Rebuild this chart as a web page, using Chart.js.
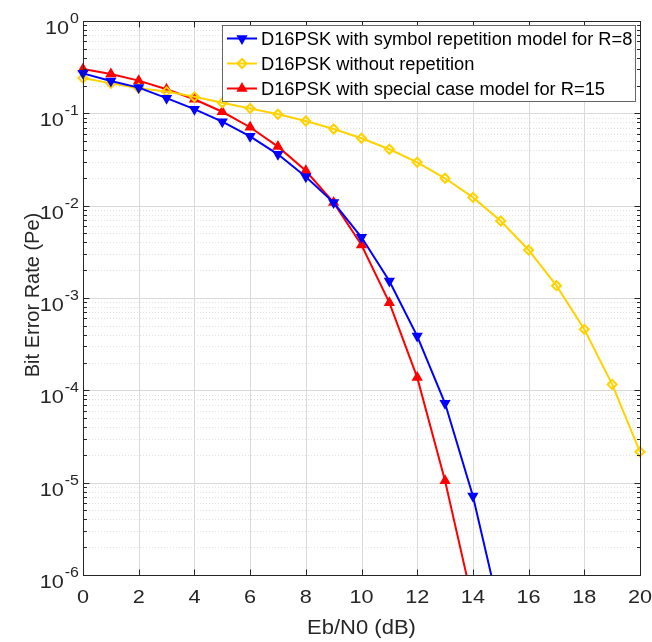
<!DOCTYPE html>
<html>
<head>
<meta charset="utf-8">
<script src="https://cdn.jsdelivr.net/npm/chart.js@4.4.1/dist/chart.umd.min.js"></script>
<style>
  html, body { margin: 0; padding: 0; background: #fff; }
  #berChart { display: block; }
</style>
</head>
<body>
<canvas id="berChart" width="652" height="642"></canvas>
<script>
// ==============================
// DATA
// ==============================
const EBN0_DB = [0,1,2,3,4,5,6,7,8,9,10,11,12,13,14,15,16,17,18,19,20];

const BER_REP_R8 = [
  0.271, 0.224, 0.190, 0.146, 0.111, 0.0812, 0.0564, 0.0360, 0.0206, 0.0108,
  4.54e-3, 1.53e-3, 3.87e-4, 7.24e-5, 7.16e-6, 3.6e-7
];

const BER_NO_REP = [
  0.241, 0.211, 0.187, 0.172, 0.151, 0.130, 0.113, 0.0977, 0.0826, 0.0676,
  0.0537, 0.0408, 0.0295, 0.0198, 0.0123, 6.82e-3, 3.31e-3, 1.36e-3, 4.58e-4,
  1.16e-4, 2.16e-5
];

const BER_SPECIAL_R15 = [
  0.302, 0.267, 0.226, 0.182, 0.142, 0.104, 0.0707, 0.0436, 0.0239, 0.0108,
  3.75e-3, 8.9e-4, 1.38e-4, 1.05e-5, 4.95e-7
];

const SERIES_LABELS = [
  "D16PSK with symbol repetition model for R=8",
  "D16PSK without repetition",
  "D16PSK with special case model for R=15"
];

const X_TICKS = [0,2,4,6,8,10,12,14,16,18,20];
const Y_EXPONENTS = [0,-1,-2,-3,-4,-5,-6];

const X_TITLE = "Eb/N0 (dB)";
const Y_TITLE = "Bit Error Rate (Pe)";

// ==============================
// STYLE
// ==============================
const FONT = '"Liberation Sans", Arial, Helvetica, sans-serif';
const AXIS_COLOR = "#262626";
const BLUE = "#0000ff";
const YELLOW = "#ffd200";
const RED = "#ff0000";
const TEXT_STRETCH = 1.14;   // reference text is a bit wide

function toPoints(values) {
  return values.map((v, i) => ({ x: EBN0_DB[i], y: v }));
}

function hLine(ctx, x1, x2, y) {
  ctx.beginPath();
  ctx.moveTo(x1, y);
  ctx.lineTo(x2, y);
  ctx.stroke();
}

function vLine(ctx, x, y1, y2) {
  ctx.beginPath();
  ctx.moveTo(x, y1);
  ctx.lineTo(x, y2);
  ctx.stroke();
}

function wideText(ctx, text, x, y, sx) {
  ctx.save();
  ctx.translate(x, y);
  ctx.scale(sx, 1);
  ctx.fillText(text, 0, 0);
  ctx.restore();
}

// ==============================
// MATLAB-LIKE AXES PLUGIN
// ==============================
const matlabAxes = {
  id: "matlabAxes",

  beforeDatasetsDraw(chart) {
    const { ctx, chartArea: a, scales: { x, y } } = chart;
    ctx.save();
    ctx.lineWidth = 1;

    // minor y grid (dotted)
    ctx.strokeStyle = "#e2e2e2";
    ctx.setLineDash([1, 2]);
    Y_EXPONENTS.forEach(p => {
      for (let m = 2; m <= 9; m++) {
        const v = m * Math.pow(10, p);
        if (v >= 1) continue;
        const py = Math.round(y.getPixelForValue(v)) + 0.5;
        hLine(ctx, a.left, a.right, py);
      }
    });

    // major grid
    ctx.setLineDash([]);
    ctx.strokeStyle = "#dadada";
    X_TICKS.forEach(t => {
      const px = Math.round(x.getPixelForValue(t)) + 0.5;
      vLine(ctx, px, a.top, a.bottom);
    });
    Y_EXPONENTS.forEach(p => {
      const py = Math.round(y.getPixelForValue(Math.pow(10, p))) + 0.5;
      hLine(ctx, a.left, a.right, py);
    });
    ctx.restore();
  },

  afterDatasetsDraw(chart) {
    const { ctx, chartArea: a, scales: { x, y } } = chart;
    const L = Math.round(a.left) + 0.5, R = Math.round(a.right) + 0.5;
    const T = Math.round(a.top) + 0.5, B = Math.round(a.bottom) + 0.5;
    ctx.save();

    // box
    ctx.strokeStyle = AXIS_COLOR;
    ctx.lineWidth = 1;
    ctx.strokeRect(L, T, R - L, B - T);

    // x ticks (inward, bottom and top)
    X_TICKS.forEach(t => {
      const px = Math.round(x.getPixelForValue(t)) + 0.5;
      vLine(ctx, px, B, B - 6);
      vLine(ctx, px, T, T + 6);
    });

    // y ticks (inward, left and right), major + minor
    Y_EXPONENTS.forEach(p => {
      for (let m = 1; m <= 9; m++) {
        const v = m * Math.pow(10, p);
        if (v > 1) continue;
        const len = m === 1 ? 6 : 3.5;
        const py = Math.round(y.getPixelForValue(v)) + 0.5;
        hLine(ctx, L, L + len, py);
        hLine(ctx, R, R - len, py);
      }
    });

    // x tick labels
    ctx.fillStyle = AXIS_COLOR;
    ctx.font = "19px " + FONT;
    ctx.textAlign = "center";
    ctx.textBaseline = "middle";
    X_TICKS.forEach(t => {
      wideText(ctx, String(t), x.getPixelForValue(t), 598, TEXT_STRETCH);
    });

    // y tick labels: 10 with superscript exponent
    Y_EXPONENTS.forEach(p => {
      const py = y.getPixelForValue(Math.pow(10, p));
      const exp = p === 0 ? "0" : "-" + Math.abs(p);
      ctx.textAlign = "right";
      ctx.textBaseline = "alphabetic";
      ctx.font = "14px " + FONT;
      const ew = ctx.measureText(exp).width * TEXT_STRETCH;
      wideText(ctx, exp, 79, py + 2, TEXT_STRETCH);
      ctx.font = "19px " + FONT;
      wideText(ctx, "10", 79 - ew - 1, py + 13, TEXT_STRETCH);
    });

    // axis titles
    ctx.font = "20px " + FONT;
    ctx.textAlign = "center";
    ctx.textBaseline = "middle";
    wideText(ctx, X_TITLE, (a.left + a.right) / 2, 628, 1.1);
    ctx.save();
    ctx.translate(33, (a.top + a.bottom) / 2 - 3);
    ctx.rotate(-Math.PI / 2);
    ctx.fillText(Y_TITLE, 0, 0);
    ctx.restore();

    // legend
    const lx = 222.5, ly = 25.5, lw = 413, lh = 76;
    ctx.fillStyle = "#fff";
    ctx.fillRect(lx, ly, lw, lh);
    ctx.strokeStyle = "#666";
    ctx.lineWidth = 1;
    ctx.strokeRect(lx, ly, lw, lh);

    chart.data.datasets.forEach((ds, i) => {
      const ry = 38.5 + i * 25;
      ctx.strokeStyle = ds.borderColor;
      ctx.lineWidth = 2;
      hLine(ctx, 227, 257, ry);
      ctx.fillStyle = ds.pointBackgroundColor;
      ctx.strokeStyle = ds.borderColor;
      ctx.lineWidth = ds.pointBorderWidth;
      Chart.helpers.drawPoint(ctx, {
        pointStyle: ds.pointStyle,
        rotation: ds.pointRotation || 0,
        radius: ds.pointRadius,
        borderWidth: ds.pointBorderWidth
      }, 242, ry);
      ctx.fillStyle = "#000";
      ctx.font = "18.3px " + FONT;
      ctx.textAlign = "left";
      ctx.textBaseline = "middle";
      ctx.fillText(ds.label, 261, ry + 1);
    });

    ctx.restore();
  }
};

// ==============================
// CHART
// ==============================
const ctx = document.getElementById("berChart").getContext("2d");

new Chart(ctx, {
  type: "line",
  data: {
    datasets: [
      {
        label: SERIES_LABELS[0],
        data: toPoints(BER_REP_R8),
        borderColor: BLUE,
        backgroundColor: BLUE,
        pointBackgroundColor: BLUE,
        pointStyle: "triangle",
        pointRotation: 180,
        pointRadius: 5,
        pointBorderWidth: 1.5
      },
      {
        label: SERIES_LABELS[1],
        data: toPoints(BER_NO_REP),
        borderColor: YELLOW,
        backgroundColor: YELLOW,
        pointBackgroundColor: "rgba(255,255,255,0)",
        pointStyle: "rectRot",
        pointRadius: 4.5,
        pointBorderWidth: 2
      },
      {
        label: SERIES_LABELS[2],
        data: toPoints(BER_SPECIAL_R15),
        borderColor: RED,
        backgroundColor: RED,
        pointBackgroundColor: RED,
        pointStyle: "triangle",
        pointRadius: 5,
        pointBorderWidth: 1.5
      }
    ]
  },
  options: {
    responsive: false,
    animation: false,
    devicePixelRatio: 1,
    layout: { padding: { left: 83, right: 12, top: 21, bottom: 67 } },
    datasets: {
      line: {
        borderWidth: 2,
        tension: 0,
        fill: false,
        clip: { left: 10, right: 10, top: 10, bottom: 0 }
      }
    },
    scales: {
      x: { type: "linear", min: 0, max: 20, display: false },
      y: { type: "logarithmic", min: 1e-6, max: 1, display: false }
    },
    plugins: {
      legend: { display: false },
      tooltip: { enabled: false }
    }
  },
  plugins: [matlabAxes]
});
</script>
</body>
</html>
